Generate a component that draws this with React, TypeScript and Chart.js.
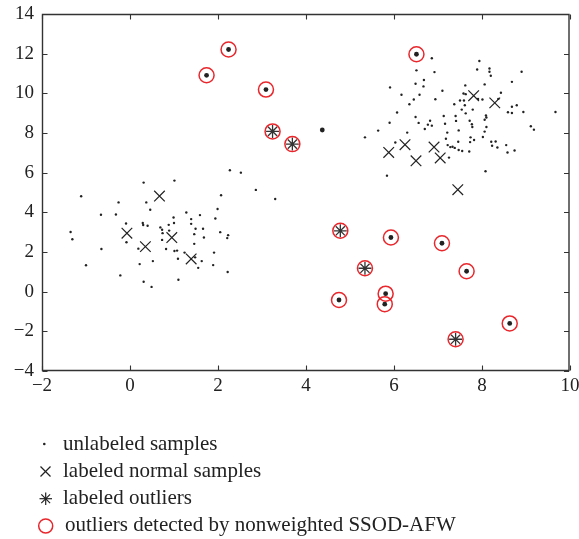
import React, { useEffect, useRef } from "react";
import { Chart, registerables } from "chart.js";

Chart.register(...registerables);

// Unlabeled samples (small dots)
const unlabeledX = [
  2.27, 2.52, 2.86, 3.30, 2.07, 1.99, 1.94, 2.05, 2.23, 2.21, 1.91, 1.89, 2.22, 1.66, 1.68, 1.59, 1.49, 1.39, 1.39, 1.28,
  1.46, 1.46, 1.24, 1.48, 1.63, 1.55, 1.10, 1.09, 1.07, 1.01, 0.82, 1.0, 0.99, 0.88, 0.89, 0.73, 0.74, 0.73, 0.69, 1.01,
  0.31, 0.37, 0.46, 0.29, 0.30, 0.40, 0.19, 0.22, 0.52, 0.31, 0.49, -0.09, -0.08, -0.26, -0.32, -0.22, -0.66, -0.65, -1.0, -1.11,
  -1.35, -1.31,
  6.86, 6.51, 6.92, 7.94, 7.89, 8.17, 8.17, 8.2, 8.9, 8.68, 8.06, 7.62, 7.58, 7.91, 8.01, 8.43, 8.37, 8.79, 8.68, 8.59,
  8.68, 8.94, 9.67, 9.11, 9.18, 6.68, 6.49, 6.67, 5.91, 7.1, 6.17, 6.58, 6.45, 6.94, 6.35, 7.63, 7.59, 7.5, 7.37, 7.61,
  7.54, 7.79, 7.63, 7.4, 8.09, 8.1, 8.06, 6.07, 6.49, 7.13, 7.41, 7.72, 6.82, 6.56, 7.16, 5.9, 6.77, 6.86, 6.7, 7.77,
  7.78, 7.47, 7.21, 8.1, 8.06, 6.3, 5.64, 5.34, 6.03, 7.18, 7.74, 7.82, 8.02, 7.73, 7.46, 7.22, 7.28, 7.33, 7.38, 7.47,
  7.55, 7.71, 7.25, 8.21, 8.23, 8.31, 8.35, 8.55, 8.58, 8.74, 8.08, 5.84,
];
const unlabeledY = [
  6.12, 6.0, 5.13, 4.67, 4.86, 4.17, 3.69, 3.0, 2.85, 2.7, 1.97, 1.34, 0.99, 3.17, 2.73, 3.86, 3.17, 3.42, 3.66, 3.99,
  2.9, 2.41, 1.97, 1.73, 1.54, 1.2, 0.6, 1.66, 2.07, 2.05, 2.15, 3.46, 3.74, 3.37, 3.08, 3.12, 2.95, 2.61, 3.24, 5.6,
  5.5, 4.5, 4.13, 3.46, 3.36, 3.32, 2.17, 1.39, 1.54, 0.5, 0.24, 3.44, 2.49, 4.5, 3.89, 0.82, 3.88, 2.15, 1.33, 4.81,
  3.01, 2.64,
  11.77, 11.16, 11.07, 11.63, 11.2, 11.25, 11.09, 10.89, 11.09, 10.58, 10.45, 10.4, 9.99, 9.72, 9.69, 10.03, 9.72, 9.4, 9.32, 9.05,
  9.01, 9.06, 9.06, 8.34, 8.17, 10.67, 10.48, 10.35, 10.3, 10.13, 9.93, 9.93, 9.69, 9.7, 9.45, 9.96, 9.64, 9.64, 9.45, 9.4,
  9.18, 9.18, 8.99, 8.86, 8.88, 8.78, 8.67, 9.03, 8.81, 8.86, 8.61, 8.62, 8.62, 8.51, 8.47, 8.52, 8.42, 8.37, 8.2, 8.44,
  8.3, 8.13, 8.02, 8.3, 8.07, 8.02, 8.12, 7.78, 7.52, 7.71, 7.78, 7.65, 7.8, 7.54, 7.56, 7.39, 7.29, 7.31, 7.25, 7.14,
  7.09, 7.07, 6.76, 7.56, 7.36, 7.57, 7.27, 7.39, 7.02, 7.12, 6.07, 5.85,
];

// Unlabeled samples drawn as larger dots (including those detected as outliers)
const bigDotX = [2.24, 1.74, 3.09, 6.51, 5.93, 7.09, 7.65, 4.75, 5.81, 5.79, 8.63, 4.37];
const bigDotY = [12.21, 10.91, 10.19, 11.97, 2.73, 2.44, 1.03, -0.42, -0.1, -0.63, -1.6, 8.15];

// Labeled normal samples (x markers)
const normalX = [-0.07, 0.35, 0.67, 0.95, 1.39, 5.88, 6.25, 6.5, 6.91, 7.05, 7.45, 7.81, 8.29];
const normalY = [2.95, 2.27, 4.82, 2.73, 1.65, 7.02, 7.41, 6.6, 7.29, 6.74, 5.14, 9.88, 9.52];

// Labeled outliers (asterisks)
const labOutX = [3.24, 3.69, 4.78, 5.34, 7.4];
const labOutY = [8.08, 7.44, 3.07, 1.18, -2.4];

// Outliers detected by nonweighted SSOD-AFW (red circles)
const detectedX = [2.24, 1.74, 3.09, 6.51, 5.93, 7.09, 7.65, 4.75, 5.81, 5.79, 8.63, 3.24, 3.69, 4.78, 5.34, 7.4];
const detectedY = [12.21, 10.91, 10.19, 11.97, 2.73, 2.44, 1.03, -0.42, -0.1, -0.63, -1.6, 8.08, 7.44, 3.07, 1.18, -2.4];

const xTicks = [-2, 0, 2, 4, 6, 8, 10];
const yTicks = [-4, -2, 0, 2, 4, 6, 8, 10, 12, 14];

const legendLabels = [
  "unlabeled samples",
  "labeled normal samples",
  "labeled outliers",
  "outliers detected by nonweighted SSOD-AFW",
];

const zip = (xs: number[], ys: number[]) => xs.map((x, i) => ({ x, y: ys[i] }));

const FONT = "'Liberation Serif', 'Times New Roman', serif";
const RED = "#e8262b";
const INK = "#222";

const boxPlugin = {
  id: "boxTicks",
  afterDraw(chart: any) {
    const { ctx, chartArea } = chart;
    const l = Math.round(chartArea.left) + 0.5;
    const r = Math.round(chartArea.right) - 1;
    const t = Math.round(chartArea.top) + 0.5;
    const b = Math.round(chartArea.bottom) - 0.5;
    ctx.save();
    ctx.strokeStyle = "#333";
    ctx.lineWidth = 1.4;
    ctx.beginPath();
    ctx.moveTo(l, t);
    ctx.lineTo(r, t);
    ctx.lineTo(r, b);
    ctx.lineTo(l, b);
    ctx.closePath();
    ctx.stroke();
    const tl = 5;
    ctx.lineWidth = 1.1;
    ctx.beginPath();
    xTicks.forEach((v) => {
      const px = Math.round(chart.scales.x.getPixelForValue(v)) + 0.5;
      ctx.moveTo(px, b);
      ctx.lineTo(px, b - tl);
      ctx.moveTo(px, t);
      ctx.lineTo(px, t + tl);
    });
    yTicks.forEach((v) => {
      const py = Math.round(chart.scales.y.getPixelForValue(v)) + 0.5;
      ctx.moveTo(l, py);
      ctx.lineTo(l + tl, py);
      ctx.moveTo(r, py);
      ctx.lineTo(r - tl, py);
    });
    ctx.stroke();
    ctx.restore();
  },
};

const fmt = (v: any) => String(v).replace("-", "\u2212");

export default function App() {
  const ref = useRef<HTMLCanvasElement>(null);
  useEffect(() => {
    if (!ref.current) return;
    const chart = new Chart(ref.current, {
      type: "scatter",
      data: {
        datasets: [
          {
            label: legendLabels[3],
            data: zip(detectedX, detectedY),
            pointStyle: "circle",
            pointRadius: 7.5,
            pointBorderColor: RED,
            pointBackgroundColor: "rgba(0,0,0,0)",
            pointBorderWidth: 1.5,
          },
          {
            label: legendLabels[2],
            data: zip(labOutX, labOutY),
            pointStyle: "star",
            pointRadius: 6.5,
            pointBorderColor: "#333",
            pointBackgroundColor: "#333",
            pointBorderWidth: 1.3,
          },
          {
            label: legendLabels[1],
            data: zip(normalX, normalY),
            pointStyle: "crossRot",
            pointRadius: 7.5,
            pointBorderColor: INK,
            pointBackgroundColor: INK,
            pointBorderWidth: 1.2,
          },
          {
            label: "big dots",
            data: zip(bigDotX, bigDotY),
            pointStyle: "circle",
            pointRadius: 2.4,
            pointBorderWidth: 0,
            pointBackgroundColor: INK,
          },
          {
            label: legendLabels[0],
            data: zip(unlabeledX, unlabeledY),
            pointStyle: "circle",
            pointRadius: 1.2,
            pointBorderWidth: 0,
            pointBackgroundColor: INK,
          },
        ],
      },
      options: {
        responsive: false,
        animation: false,
        events: [],
        layout: { padding: { top: 14, right: 7, left: 0, bottom: 0 } },
        plugins: { legend: { display: false }, tooltip: { enabled: false } },
        scales: {
          x: {
            type: "linear",
            min: -2,
            max: 10,
            afterFit: (s: any) => {
              s.height = 29;
              s.paddingLeft = 0;
              s.paddingRight = 0;
              s.paddingTop = 0;
              s.paddingBottom = 0;
            },
            afterBuildTicks: (s: any) => {
              s.ticks = xTicks.map((v) => ({ value: v }));
            },
            grid: { display: false, drawTicks: false },
            border: { display: false },
            ticks: {
              padding: 4,
              color: INK,
              font: { family: FONT, size: 19 },
              callback: fmt,
              maxRotation: 0,
            },
          },
          y: {
            type: "linear",
            min: -4,
            max: 14,
            afterFit: (s: any) => {
              s.width = 42;
              s.paddingLeft = 0;
              s.paddingRight = 0;
              s.paddingTop = 0;
              s.paddingBottom = 0;
            },
            afterBuildTicks: (s: any) => {
              s.ticks = yTicks.map((v) => ({ value: v }));
            },
            grid: { display: false, drawTicks: false },
            border: { display: false },
            ticks: {
              padding: 8,
              color: INK,
              font: { family: FONT, size: 19 },
              callback: fmt,
            },
          },
        },
      },
      plugins: [boxPlugin],
    });
    return () => chart.destroy();
  }, []);

  const rowTop = [430, 457, 484, 511];
  const textStyle = (i: number): React.CSSProperties => ({
    position: "absolute",
    left: i === 3 ? 65 : 63,
    top: rowTop[i],
    fontFamily: FONT,
    fontSize: 21,
    lineHeight: "27px",
    color: INK,
    whiteSpace: "nowrap",
  });

  return (
    <div style={{ position: "absolute", left: 0, top: 0, width: 579, height: 539, background: "#fff" }}>
      <canvas ref={ref} width={579} height={400} style={{ display: "block", position: "absolute", left: 0, top: 0 }} />
      <svg width={579} height={539} style={{ position: "absolute", left: 0, top: 0, pointerEvents: "none" }}>
        <circle cx={44.3} cy={444} r={1.3} fill={INK} />
        <g stroke={INK} strokeWidth={1.2}>
          <line x1={40.5} y1={466.5} x2={50.5} y2={476.5} />
          <line x1={40.5} y1={476.5} x2={50.5} y2={466.5} />
        </g>
        <g stroke={INK} strokeWidth={1.2}>
          <line x1={45.7} y1={492.5} x2={45.7} y2={505} />
          <line x1={39.5} y1={498.7} x2={52} y2={498.7} />
          <line x1={41.3} y1={494.3} x2={50.1} y2={503.1} />
          <line x1={41.3} y1={503.1} x2={50.1} y2={494.3} />
        </g>
        <circle cx={45.7} cy={526} r={7} fill="none" stroke={RED} strokeWidth={1.5} />
      </svg>
      {legendLabels.map((t, i) => (
        <div key={t} style={textStyle(i)}>
          {t}
        </div>
      ))}
    </div>
  );
}
